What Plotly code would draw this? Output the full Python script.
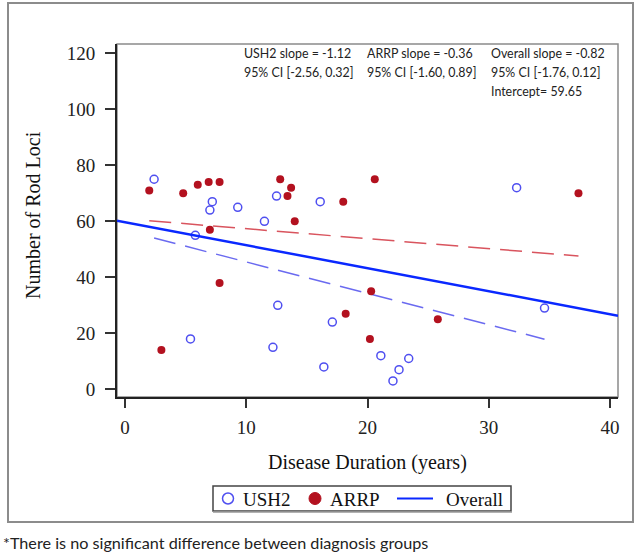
import plotly.graph_objects as go

# USH2 patients (open blue circles)
ush2_duration = [2.4, 7.2, 7.0, 9.3, 11.5, 5.8, 12.5, 16.1, 32.3, 12.6,
                 5.4, 12.2, 16.4, 17.1, 21.1, 23.4, 22.6, 22.1, 34.6]
ush2_loci = [75, 67, 64, 65, 60, 55, 69, 67, 72, 30,
             18, 15, 8, 24, 12, 11, 7, 3, 29]

# ARRP patients (filled red dots)
arrp_duration = [2.0, 4.8, 6.0, 6.9, 7.8, 7.0, 12.8, 13.4, 13.7, 14.0,
                 20.6, 18.0, 37.4, 7.8, 3.0, 20.3, 18.2, 20.2, 25.8]
arrp_loci = [71, 70, 73, 74, 74, 57, 75, 69, 72, 60,
             75, 67, 70, 38, 14, 35, 27, 18, 25]

# fitted lines (end points)
ush2_fit_x = [2.4, 34.6]
ush2_fit_y = [54.0, 17.9]
arrp_fit_x = [2.0, 37.4]
arrp_fit_y = [60.2, 47.6]
overall_fit_x = [-0.66, 40.66]
overall_fit_y = [60.2, 26.3]

x_ticks = [0, 10, 20, 30, 40]
y_ticks = [0, 20, 40, 60, 80, 100, 120]

serif = "Liberation Serif, Times New Roman, serif"
sans = "Lato, Liberation Sans, sans-serif"

USH2_COL = "#4f4ff0"
ARRP_COL = "#b3111f"
OVERALL_COL = "#0a28ff"

fig = go.Figure()

fig.add_trace(go.Scatter(
    x=ush2_fit_x, y=ush2_fit_y, mode="lines", showlegend=False,
    line=dict(color="#6a6af0", width=1.5, dash="22px,10px"),
))
fig.add_trace(go.Scatter(
    x=arrp_fit_x, y=arrp_fit_y, mode="lines", showlegend=False,
    line=dict(color="#d9545e", width=1.5, dash="22px,10px"),
))
fig.add_trace(go.Scatter(
    x=ush2_duration, y=ush2_loci, mode="markers", name="USH2", showlegend=False,
    marker=dict(symbol="circle-open", size=8, color=USH2_COL, line=dict(width=1.5)),
))
fig.add_trace(go.Scatter(
    x=arrp_duration, y=arrp_loci, mode="markers", name="ARRP", showlegend=False,
    marker=dict(symbol="circle", size=8, color=ARRP_COL),
))
fig.add_trace(go.Scatter(
    x=overall_fit_x, y=overall_fit_y, mode="lines", name="Overall", showlegend=False,
    line=dict(color=OVERALL_COL, width=2.5),
))

# plot area px: left 117, right 618, top 44, bottom 397
def px(x):
    return (x - 117) / 501.0

def py(y):
    return (397 - y) / 353.0

notes = [
    ("USH2 slope = -1.12", 243, 53),
    ("95% CI [-2.56, 0.32]", 243, 72.5),
    ("ARRP slope = -0.36", 366, 53),
    ("95% CI [-1.60, 0.89]", 366, 72.5),
    ("Overall slope = -0.82", 490, 53),
    ("95% CI [-1.76, 0.12]", 490, 72.5),
    ("Intercept= 59.65", 490, 91),
]
for txt, ax_, ay_ in notes:
    fig.add_annotation(
        text=txt, xref="paper", yref="paper", x=px(ax_), y=py(ay_),
        xanchor="left", yanchor="middle", showarrow=False, borderpad=0,
        font=dict(family=sans, size=12.4, color="#222"),
    )

fig.add_annotation(
    text="Number of Rod Loci", xref="paper", yref="paper", x=px(33), y=py(215),
    textangle=-90, showarrow=False, xanchor="center", yanchor="middle",
    font=dict(family=serif, size=20, color="#111"),
)
fig.add_annotation(
    text="Disease Duration (years)", xref="paper", yref="paper", x=px(367), y=py(462),
    showarrow=False, xanchor="center", yanchor="middle",
    font=dict(family=serif, size=20, color="#111"),
)
fig.add_annotation(
    text="*There is no significant difference between diagnosis groups",
    xref="paper", yref="paper", x=px(2), y=py(542),
    showarrow=False, xanchor="left", yanchor="middle", borderpad=0,
    font=dict(family=sans, size=16.2, color="#222"),
)

# gray frame round the plot area, and the outer frame
fig.add_shape(type="rect", xref="paper", yref="paper", x0=0, x1=1, y0=0, y1=1,
              line=dict(color="#8a8a8a", width=1.5), layer="below")
fig.add_shape(type="rect", xref="paper", yref="paper",
              x0=px(8), x1=px(633), y0=py(522), y1=py(3),
              line=dict(color="#8c8c8c", width=2), layer="below")

# legend box drawn by hand so it is as flat as the original
fig.add_shape(type="rect", xref="paper", yref="paper",
              x0=px(213), x1=px(511), y0=py(511), y1=py(486),
              line=dict(color="#444", width=1.5), fillcolor="white")
fig.add_shape(type="line", xref="paper", yref="paper",
              x0=px(213), x1=px(512), y0=py(512), y1=py(512),
              line=dict(color="#999", width=1.5))
fig.add_shape(type="circle", xref="paper", yref="paper",
              x0=px(222.5), x1=px(233.5), y0=py(504), y1=py(493),
              line=dict(color=USH2_COL, width=1.5))
fig.add_shape(type="circle", xref="paper", yref="paper",
              x0=px(309), x1=px(321), y0=py(504.5), y1=py(492.5),
              line=dict(color=ARRP_COL, width=1), fillcolor=ARRP_COL)
fig.add_shape(type="line", xref="paper", yref="paper",
              x0=px(397), x1=px(433), y0=py(498.5), y1=py(498.5),
              line=dict(color=OVERALL_COL, width=2))
for txt, lx in [("USH2", 242), ("ARRP", 329), ("Overall", 445)]:
    fig.add_annotation(
        text=txt, xref="paper", yref="paper", x=px(lx), y=py(499),
        xanchor="left", yanchor="middle", showarrow=False, borderpad=0,
        font=dict(family=serif, size=19, color="#111"),
    )

fig.update_xaxes(
    range=[-0.66, 40.66], tickvals=x_ticks, showgrid=False, zeroline=False,
    showline=True, linecolor="#222", linewidth=2,
    ticks="outside", ticklen=9, tickwidth=1.5, tickcolor="#333",
    ticklabelstandoff=3,
    tickfont=dict(family=serif, size=19, color="#222"),
)
fig.update_yaxes(
    range=[-2.75, 123.3], tickvals=y_ticks, showgrid=False, zeroline=False,
    showline=True, linecolor="#222", linewidth=2,
    ticks="outside", ticklen=10, tickwidth=1.5, tickcolor="#333",
    ticklabelstandoff=6,
    tickfont=dict(family=serif, size=19, color="#222"),
)

fig.update_layout(
    width=636, height=559,
    margin=dict(l=117, r=18, t=44, b=162),
    paper_bgcolor="white", plot_bgcolor="white",
    showlegend=False,
)

# the page's default body margin would push the figure 8px off
fig.write_html("out.html", config={"displayModeBar": False},
               post_script="document.body.style.margin='0';")
